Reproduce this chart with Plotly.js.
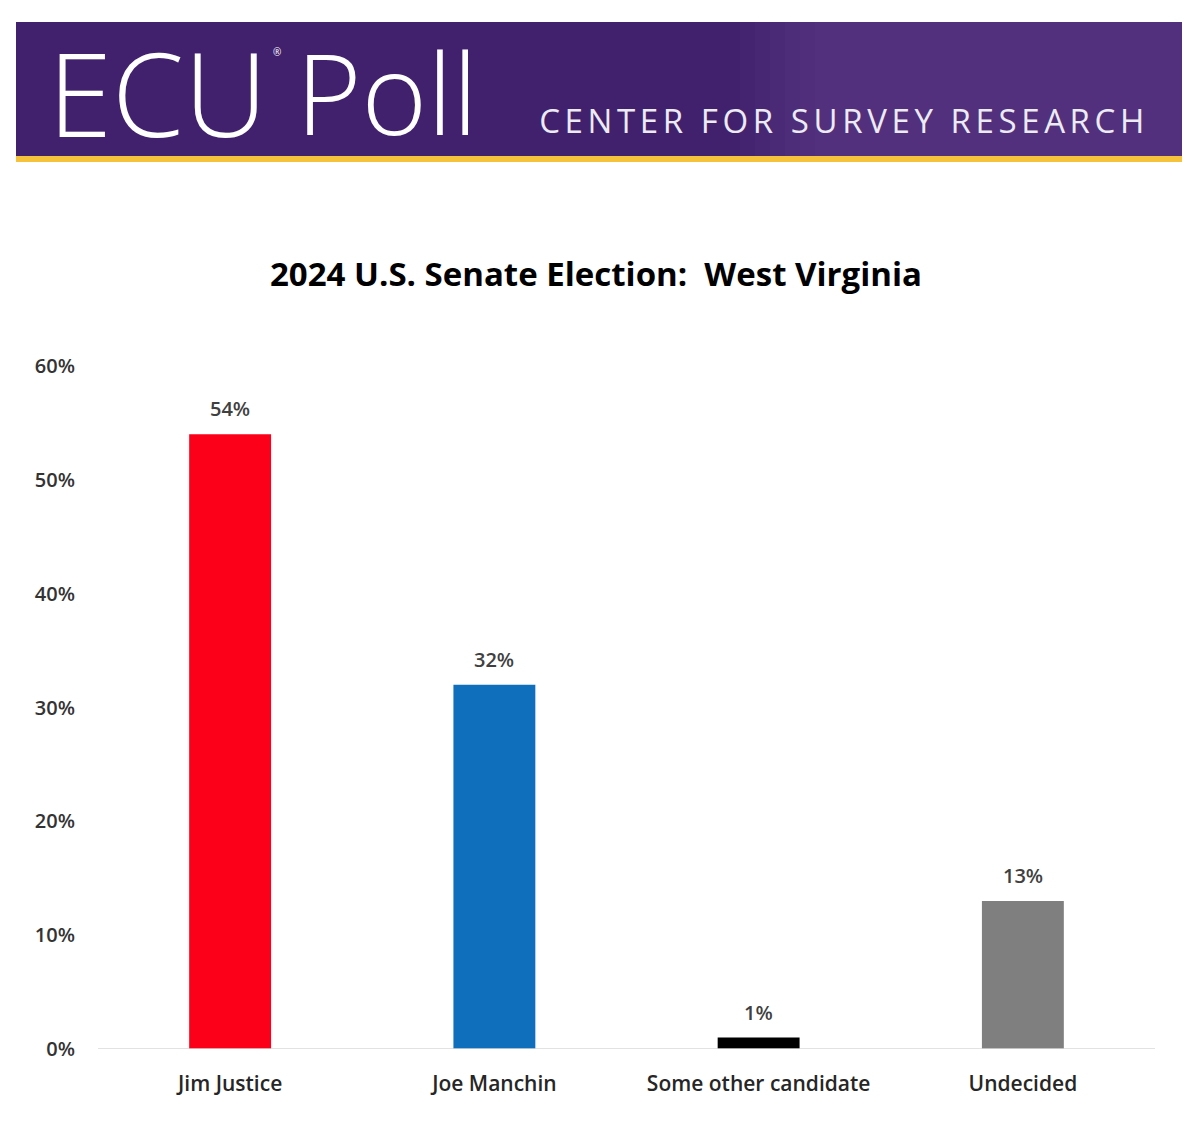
<!DOCTYPE html>
<html><head><meta charset="utf-8">
<script src="https://cdn.plot.ly/plotly-3.0.1.min.js"></script>
<style>html,body{margin:0;padding:0;background:#fff}#chart{width:1200px;height:1122px}</style>
</head><body><div id="chart"></div>
<script>
const categories = ["Jim Justice", "Joe Manchin", "Some other candidate", "Undecided"];
const values = [54, 32, 1, 13];
const barColors = ["#fb0018", "#0f6fbd", "#000000", "#7f7f7f"];
const yTickVals = [0, 10, 20, 30, 40, 50, 60];
const yTickText = ["0%", "10%", "20%", "30%", "40%", "50%", "60%"];

// plot area in pixels: x 98..1155, y 366..1049
const L = 98, R = 1155, T = 366, B = 1049;
const px = x => (x - L) / (R - L);
const py = y => (B - y) / (B - T);

const shapes = [
  {type:"rect", xref:"paper", yref:"paper", x0:px(16), x1:px(1182), y0:py(157), y1:py(22), fillcolor:"#41216d", line:{width:0}, layer:"below"}
];
// soft lighter area on the right (seal watermark impression)
for (let i = 0; i < 6; i++) {
  shapes.push({type:"rect", xref:"paper", yref:"paper", x0:px(740 + i*15), x1:px(1182), y0:py(157), y1:py(22),
    fillcolor:"rgba(130,100,180,0.05)", line:{width:0}, layer:"below"});
}
shapes.push(
  {type:"rect", xref:"paper", yref:"paper", x0:px(16), x1:px(1182), y0:py(162), y1:py(156), fillcolor:"#f6c23c", line:{width:0}, layer:"below"},
  {type:"line", xref:"paper", yref:"y", x0:0, x1:1, y0:0, y1:0, line:{color:"#d9d9d9", width:1.5}}
);

const annotations = [
  {text:"ECU", xref:"paper", yref:"paper", x:px(46), y:py(92), xanchor:"left", yanchor:"middle", showarrow:false,
   font:{family:"Open Sans", size:116, color:"#ffffff", weight:300}},
  {text:"®", xref:"paper", yref:"paper", x:px(271), y:py(52), xanchor:"left", yanchor:"middle", showarrow:false,
   font:{family:"Open Sans", size:10, color:"#ffffff"}},
  {text:"Poll", xref:"paper", yref:"paper", x:px(294), y:py(92), xanchor:"left", yanchor:"middle", showarrow:false,
   font:{family:"Open Sans", size:112, color:"#ffffff", weight:300}},
  {text:"CENTER FOR SURVEY RESEARCH", xref:"paper", yref:"paper", x:px(597), y:py(121), xanchor:"left", yanchor:"middle", showarrow:false,
   font:{family:"Open Sans", size:33, color:"#ecebf2", weight:400}},
  {text:"<b>2024 U.S. Senate Election:  West Virginia</b>", xref:"paper", yref:"paper", x:px(596), y:py(273), xanchor:"center", yanchor:"middle", showarrow:false,
   font:{family:"Open Sans", size:33, color:"#000000"}}
];
// data labels above bars, placed through the data scales
categories.forEach((c, i) => {
  annotations.push({text:values[i] + "%", x:c, y:values[i], xref:"x", yref:"y", xanchor:"center", yanchor:"bottom",
    yshift:10, showarrow:false, font:{family:"Open Sans", size:20, color:"#404040", weight:600}});
});

Plotly.newPlot("chart", [{
  type:"bar", x:categories, y:values,
  marker:{color:barColors},
  hoverinfo:"skip"
}], {
  width:1200, height:1122,
  margin:{l:L, r:1200-R, t:T, b:1122-B},
  paper_bgcolor:"#ffffff", plot_bgcolor:"#ffffff",
  bargap:0.69,
  showlegend:false,
  xaxis:{showgrid:false, zeroline:false, showline:false, ticks:"", ticklabelstandoff:20,
    tickfont:{family:"Open Sans", size:21, color:"#262626", weight:600}},
  yaxis:{range:[0,60], tickvals:yTickVals, ticktext:yTickText, showgrid:false, zeroline:false, showline:false,
    ticks:"", ticklen:0, tickfont:{family:"Open Sans", size:20, color:"#333333", weight:600}, ticklabelstandoff:22},
  shapes:shapes, annotations:annotations
}, {staticPlot:true}).then(() => {
  document.querySelectorAll(".annotation-text").forEach(t => {
    if (t.textContent === "CENTER FOR SURVEY RESEARCH") t.setAttribute("letter-spacing", "4.6");
  });
});
</script></body></html>
